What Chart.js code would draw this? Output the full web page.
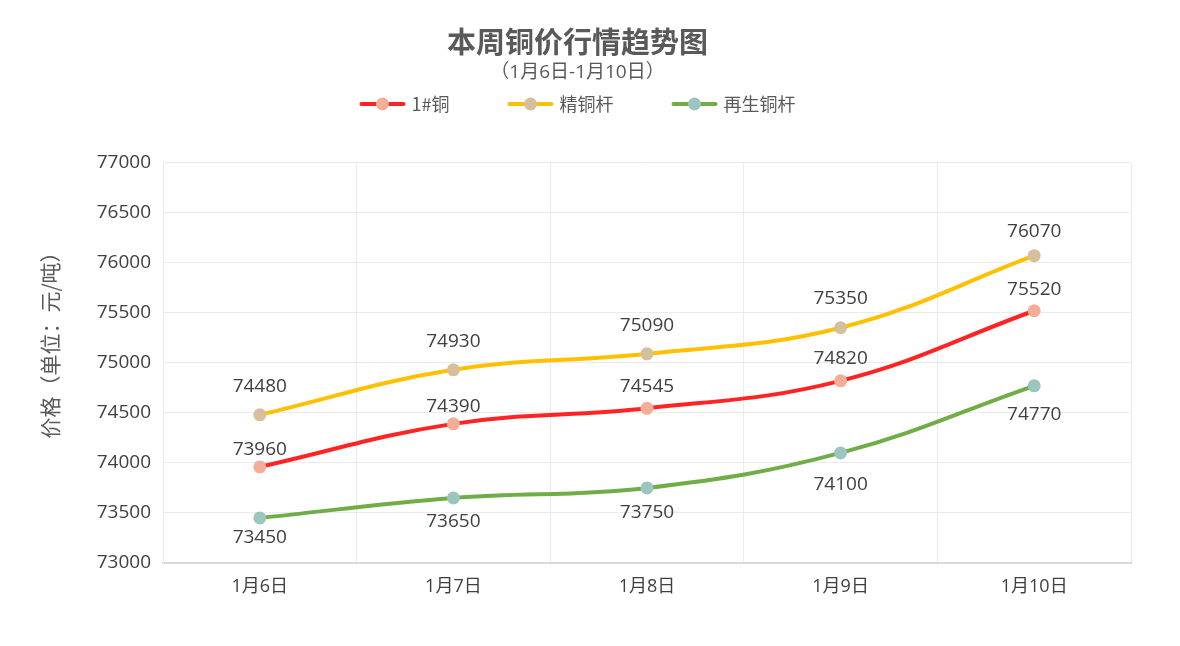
<!DOCTYPE html>
<html>
<head>
<meta charset="utf-8">
<script src="https://cdn.jsdelivr.net/npm/chart.js@4/dist/chart.umd.min.js"></script>
<style>
  html, body { margin: 0; padding: 0; background: #fff; }
  #wrap { width: 1180px; height: 646px; }
</style>
</head>
<body>
<div id="wrap"><canvas id="chart"></canvas></div>
<script>
// categories and series
const days = ["1月6日", "1月7日", "1月8日", "1月9日", "1月10日"];
const copper1 = [73960, 74390, 74545, 74820, 75520];
const rodFine = [74480, 74930, 75090, 75350, 76070];
const rodRecycled = [73450, 73650, 73750, 74100, 74770];
const yTitle = "价格（单位：元/吨）";

const FONT = "'Noto Sans CJK SC', 'Noto Sans', sans-serif";
const NUMFONT = "'Open Sans', 'Noto Sans CJK SC', sans-serif";

// value labels above / below each point
const valueLabels = {
  id: "valueLabels",
  afterDatasetsDraw(chart, args, opts) {
    const ctx = chart.ctx;
    ctx.save();
    ctx.font = "19px " + NUMFONT;
    ctx.fillStyle = "#404040";
    ctx.textAlign = "center";
    ctx.textBaseline = "middle";
    chart.data.datasets.forEach((ds, i) => {
      const meta = chart.getDatasetMeta(i);
      const dy = opts.offsets[i];
      meta.data.forEach((pt, j) => {
        ctx.fillText(String(ds.data[j]), pt.x, pt.y + dy[j] + 1);
      });
    });
    ctx.restore();
  }
};

// legend (line with a dot in the middle, then the name) and y axis title
const lineLegend = {
  id: "lineLegend",
  afterDraw(chart, args, opts) {
    const ctx = chart.ctx;
    ctx.save();
    ctx.font = "18px " + FONT;
    ctx.textBaseline = "middle";
    const lineW = 46, gap = 6, between = 58;
    const items = chart.data.datasets.map(ds => ({
      ds, w: lineW + gap + ctx.measureText(ds.label).width
    }));
    const total = items.reduce((s, it) => s + it.w, 0) + between * (items.length - 1);
    const tb = chart.titleBlock;
    let x = tb.left + tb.width / 2 - total / 2;
    const y = opts.y;
    items.forEach(it => {
      ctx.strokeStyle = it.ds.borderColor;
      ctx.lineWidth = 4;
      ctx.lineCap = "round";
      ctx.beginPath();
      ctx.moveTo(x + 2, y);
      ctx.lineTo(x + lineW - 2, y);
      ctx.stroke();
      ctx.fillStyle = it.ds.pointBackgroundColor;
      ctx.beginPath();
      ctx.arc(x + lineW / 2, y, 6.5, 0, Math.PI * 2);
      ctx.fill();
      ctx.fillStyle = "#595959";
      ctx.fillText(it.ds.label, x + lineW + gap, y);
      x += it.w + between;
    });

    // rotated axis title
    ctx.font = "21px " + FONT;
    ctx.textAlign = "center";
    ctx.fillStyle = "#595959";
    ctx.translate(opts.titleX, opts.titleY);
    ctx.rotate(-Math.PI / 2);
    ctx.fillText(yTitle, 0, 0);
    ctx.restore();
  }
};

const ctx = document.getElementById("chart").getContext("2d");
new Chart(ctx, {
  type: "line",
  data: {
    labels: days,
    datasets: [
      {
        label: "1#铜",
        data: copper1,
        borderColor: "#FF2424",
        pointBackgroundColor: "#F4AE98",
      },
      {
        label: "精铜杆",
        data: rodFine,
        borderColor: "#FFC000",
        pointBackgroundColor: "#D5BF9D",
      },
      {
        label: "再生铜杆",
        data: rodRecycled,
        borderColor: "#70AD47",
        pointBackgroundColor: "#9DC5BF",
      },
    ],
  },
  options: {
    responsive: true,
    maintainAspectRatio: false,
    animation: false,
    layout: { padding: { left: 24, right: 49, top: 0, bottom: 0 } },
    elements: {
      line: { borderWidth: 4, tension: 0.4, fill: false },
      point: { radius: 6.5, borderWidth: 0, hoverRadius: 6.5 },
    },
    plugins: {
      legend: { display: false },
      tooltip: { enabled: false },
      title: {
        display: true,
        text: "本周铜价行情趋势图",
        color: "#595959",
        font: { family: FONT, size: 29, weight: "bold" },
        padding: { top: 25, bottom: 0 },
      },
      subtitle: {
        display: true,
        text: "（1月6日-1月10日）",
        color: "#595959",
        font: { family: NUMFONT, size: 19 },
        padding: { top: 1, bottom: 79 },
      },
      valueLabels: {
        offsets: [
          [-18, -18, -23, -23, -22],
          [-29, -29, -29, -30, -25],
          [19, 23, 24, 31, 28],
        ],
      },
      lineLegend: { y: 104, titleX: 50, titleY: 340 },
    },
    scales: {
      x: {
        offset: true,
        grid: { offset: true, color: "#ebebeb", drawTicks: false },
        border: { color: "#d9d9d9", width: 2 },
        ticks: { color: "#404040", font: { family: NUMFONT, size: 18 }, padding: 13 },
        afterFit: s => { s.height = 83; },
      },
      y: {
        min: 73000,
        max: 77000,
        grid: { color: "#ebebeb", drawTicks: false },
        border: { color: "#ebebeb" },
        ticks: {
          stepSize: 500,
          color: "#404040",
          font: { family: NUMFONT, size: 19 },
          padding: 12,
          callback: v => String(v),
        },
        afterFit: s => { s.width = 139; },
      },
    },
  },
  plugins: [valueLabels, lineLegend],
});
</script>
</body>
</html>
